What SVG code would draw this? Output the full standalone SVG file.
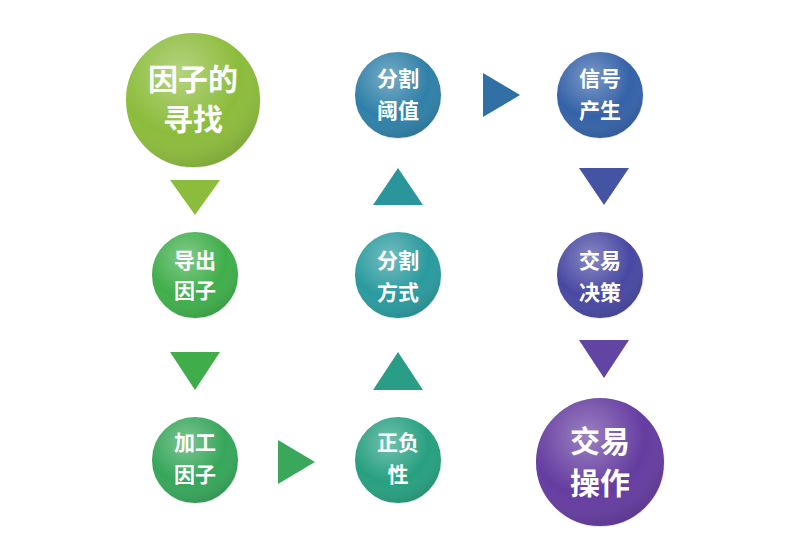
<svg xmlns="http://www.w3.org/2000/svg" width="805" height="542" viewBox="0 0 805 542">
<defs>
<radialGradient id="sh" cx="0.4" cy="0.3" r="0.75"><stop offset="0" stop-color="#fff" stop-opacity="0.35"/><stop offset="0.6" stop-color="#fff" stop-opacity="0"/><stop offset="1" stop-color="#000" stop-opacity="0.15"/></radialGradient>
</defs>
<style>
text{font-family:"Noto Sans CJK SC",sans-serif;fill:#fff;font-weight:bold;text-anchor:middle}
.s{font-size:21px}.b{font-size:30px}
.c{stroke:#fff;stroke-width:2}
</style>
<rect width="805" height="542" fill="#fff"/>
<g id="connectors">
<polygon points="170,180 220,180 195,215" fill="#8cbc3c"/>
<polygon points="170,352 220,352 195,390" fill="#3fae4a"/>
<polygon points="278,440 278,484 315,462" fill="#3aa85a"/>
<polygon points="398,352 423,390 373,390" fill="#2a9d86"/>
<polygon points="398,168 423,205 373,205" fill="#2a969c"/>
<polygon points="483,73 483,117 520,95" fill="#3070a5"/>
<polygon points="579,168 629,168 604,205" fill="#4454a2"/>
<polygon points="579,340 629,340 604,378" fill="#6244a2"/>
</g>
<g id="n1"><circle cx="193" cy="100" r="68" fill="#8cbc3c" class="c"/><circle cx="193" cy="100" r="68" fill="url(#sh)"/><text class="b" x="193" y="90">因子的</text><text class="b" x="193" y="130">寻找</text></g>
<g id="n2"><circle cx="195" cy="275" r="44" fill="#3fae4a" class="c"/><circle cx="195" cy="275" r="44" fill="url(#sh)"/><text class="s" x="195" y="268">导出</text><text class="s" x="195" y="298">因子</text></g>
<g id="n3"><circle cx="195" cy="460" r="44" fill="#36a65a" class="c"/><circle cx="195" cy="460" r="44" fill="url(#sh)"/><text class="s" x="195" y="450">加工</text><text class="s" x="195" y="482">因子</text></g>
<g id="n4"><circle cx="398" cy="460" r="44" fill="#27a080" class="c"/><circle cx="398" cy="460" r="44" fill="url(#sh)"/><text class="s" x="398" y="450">正负</text><text class="s" x="398" y="482">性</text></g>
<g id="n5"><circle cx="398" cy="275" r="44" fill="#2a9a9e" class="c"/><circle cx="398" cy="275" r="44" fill="url(#sh)"/><text class="s" x="398" y="268">分割</text><text class="s" x="398" y="300">方式</text></g>
<g id="n6"><circle cx="398" cy="95" r="44" fill="#2f80a8" class="c"/><circle cx="398" cy="95" r="44" fill="url(#sh)"/><text class="s" x="398" y="86">分割</text><text class="s" x="398" y="118">阈值</text></g>
<g id="n7"><circle cx="600" cy="95" r="44" fill="#3462a8" class="c"/><circle cx="600" cy="95" r="44" fill="url(#sh)"/><text class="s" x="600" y="86">信号</text><text class="s" x="600" y="118">产生</text></g>
<g id="n8"><circle cx="600" cy="275" r="44" fill="#4848a2" class="c"/><circle cx="600" cy="275" r="44" fill="url(#sh)"/><text class="s" x="600" y="268">交易</text><text class="s" x="600" y="300">决策</text></g>
<g id="n9"><circle cx="600" cy="462" r="65" fill="#653ca0" class="c"/><circle cx="600" cy="462" r="65" fill="url(#sh)"/><text class="b" x="600" y="452">交易</text><text class="b" x="600" y="494">操作</text></g>
</svg>
